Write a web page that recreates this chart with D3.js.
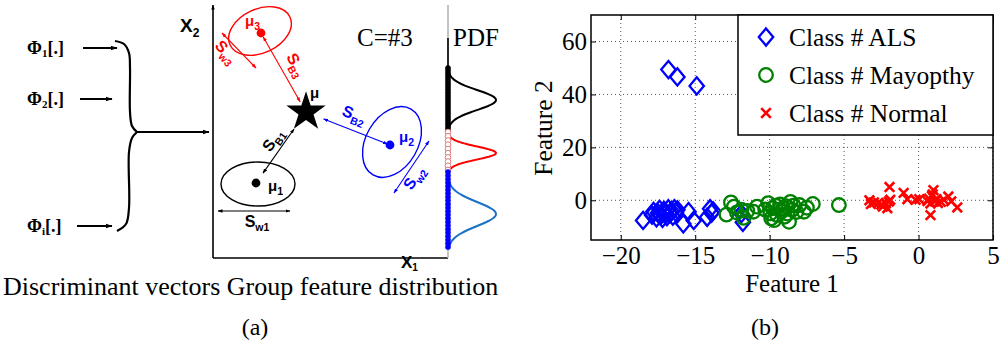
<!DOCTYPE html>
<html>
<head>
<meta charset="utf-8">
<script src="https://cdn.jsdelivr.net/npm/d3@7"></script>
<style>
  html, body { margin: 0; padding: 0; background: #fff; }
  svg { display: block; }
</style>
</head>
<body>
<svg id="fig" width="1001" height="351"></svg>
<script>
// ================= Panel (b) data: two-feature projection per class =================
const featureTicksX = [-20, -15, -10, -5, 0, 5];
const featureTicksY = [0, 20, 40, 60];
const classNames = ["Class # ALS", "Class # Mayopthy", "Class # Normal"];

const alsPoints = [
  [-16.8, 49.4], [-16.2, 46.6], [-14.9, 43.2],
  [-18.5, -7.6], [-17.9, -5.6], [-17.8, -4.2], [-17.6, -6.6], [-17.5, -4.8],
  [-17.4, -3.4], [-17.3, -5.6], [-17.2, -6.8], [-17.1, -3.8], [-17.0, -4.8],
  [-16.9, -6.2], [-16.8, -3.2], [-16.7, -5.0], [-16.6, -4.0], [-16.5, -6.0],
  [-16.4, -3.2], [-16.3, -4.6], [-16.2, -3.6],
  [-15.8, -8.9], [-15.45, -4.3], [-15.1, -7.6], [-14.2, -6.4], [-14.0, -3.2],
  [-13.9, -4.8], [-13.8, -4.0], [-11.8, -8.3], [-11.9, -5.0]
];

const mayopthyPoints = [
  [-12.9, -5.4], [-12.6, -0.8], [-12.4, -2.4], [-12.2, -4.6], [-11.9, -3.6],
  [-11.75, -6.6], [-11.5, -4.0], [-11.1, -4.3], [-10.85, -2.4], [-10.3, -3.5],
  [-10.1, -1.1], [-9.95, -4.9], [-9.9, -6.8], [-9.8, -3.0], [-9.7, -7.5],
  [-9.6, -2.0], [-9.5, -5.6], [-9.3, -1.6], [-9.2, -4.2], [-9.1, -3.0],
  [-9.0, -6.2], [-8.9, -2.2], [-8.8, -5.0], [-8.7, -8.1], [-8.6, -0.6],
  [-8.5, -3.6], [-8.4, -2.0], [-8.2, -4.4], [-8.0, -1.8], [-7.7, -4.3],
  [-7.5, -2.8], [-7.1, -1.4], [-5.35, -1.8]
];

const normalPoints = [
  [-3.3, 0.0], [-3.2, -1.4], [-3.0, -0.8], [-2.7, -1.0], [-2.5, -1.6],
  [-2.4, -2.4], [-2.2, -1.2], [-2.1, -3.0], [-2.0, -0.5], [-1.9, 0.2],
  [-1.95, 5.0], [-1.0, 2.8], [-0.75, 0.4], [-0.2, 0.2], [0.05, 0.4],
  [0.6, -0.3], [0.7, 0.6], [0.8, -1.2], [0.9, 1.6], [1.0, 3.8],
  [1.1, -0.4], [1.2, 0.4], [1.3, -1.0], [1.5, -0.6], [0.8, -5.6],
  [2.0, 1.4], [2.2, -0.4], [2.6, -2.7], [1.7, 0.2], [0.95, 2.2]
];

// ================= Panel (a) data: schematic class layout =================
// Diagram units: origin at the axes corner, one unit per pixel.
const classMeans = [
  { id: "1", x: 43,  y: 75,  color: "#000000" },
  { id: "2", x: 177, y: 113, color: "#0000ff" },
  { id: "3", x: 48,  y: 225, color: "#ff0000" }
];
const globalMean = { x: 93, y: 146 };
const mappingIds = ["1", "2", "i"];

// Gaussian components of the projected group feature distribution (diagram units)
const pdfComponents = [
  { mean: 158, sd: 10,  from: 190, to: 128, curve: "#000000", dot: "#000000", count: 24, hollow: false },
  { mean: 105, sd: 6.5, from: 126, to: 88,  curve: "#ff0000", dot: "#e07a7a", count: 10, hollow: true },
  { mean: 44,  sd: 12,  from: 86,  to: 11,  curve: "#1a72c4", dot: "#0000ff", count: 22, hollow: false }
];

// =====================================================================
const svg = d3.select("#fig");
svg.append("rect").attr("width", 1001).attr("height", 351).attr("fill", "#fff");

const SERIF = "'Liberation Serif', 'Times New Roman', serif";
const SANS = "'Liberation Sans', Arial, sans-serif";

const defs = svg.append("defs");
function arrowMarker(id, color, size) {
  defs.append("marker")
    .attr("id", id)
    .attr("viewBox", "0 0 10 10")
    .attr("refX", 9).attr("refY", 5)
    .attr("markerUnits", "userSpaceOnUse")
    .attr("markerWidth", size).attr("markerHeight", size)
    .attr("orient", "auto-start-reverse")
    .append("path").attr("d", "M0,1.5L10,5L0,8.5Z").attr("fill", color);
}
arrowMarker("ah-black", "#000", 7);
arrowMarker("ah-small-black", "#000", 5);
arrowMarker("ah-small-blue", "#0000ff", 5);
arrowMarker("ah-small-red", "#ff0000", 5);
const smallHead = { "#000000": "ah-small-black", "#0000ff": "ah-small-blue", "#ff0000": "ah-small-red" };

// ---------------- Panel (a) ----------------
const xA = d3.scaleLinear().domain([0, 235]).range([213, 448]);
const yA = d3.scaleLinear().domain([0, 253]).range([258, 5]);
const gA = svg.append("g");

function segment(g, x1, y1, x2, y2, color, width, head, both) {
  const l = g.append("line")
    .attr("x1", xA(x1)).attr("y1", yA(y1))
    .attr("x2", xA(x2)).attr("y2", yA(y2))
    .attr("stroke", color).attr("stroke-width", width)
    .attr("marker-end", `url(#${head})`);
  if (both) l.attr("marker-start", `url(#${head})`);
  return l;
}

function subLabel(g, px, py, rot, main, sub, color, size, subSize, anchor, subShift) {
  const t = g.append("text")
    .attr("transform", `translate(${px},${py}) rotate(${rot})`)
    .attr("text-anchor", anchor || "middle")
    .attr("font-family", SANS).attr("font-weight", "bold")
    .attr("font-size", size).attr("fill", color);
  t.append("tspan").text(main);
  t.append("tspan").attr("font-size", subSize)
    .attr("dy", subShift !== undefined ? subShift : size * 0.28).text(sub);
  return t;
}

// Mapping functions feeding the brace
const phiBaselines = [204, 153, 26];
const phiArrows = [[-130, -96, 210], [-133, -101, 159], [-136, -101, 32]];
mappingIds.forEach((id, i) => {
  const t = gA.append("text")
    .attr("x", xA(-186)).attr("y", yA(phiBaselines[i]))
    .attr("font-family", SERIF).attr("font-weight", "bold")
    .attr("font-size", 18).attr("fill", "#000");
  t.append("tspan").text("Φ");
  t.append("tspan").attr("font-size", 11).attr("dy", 3).text(id);
  t.append("tspan").attr("dy", -3).text("[.]");
  const a = phiArrows[i];
  segment(gA, a[0], a[2], a[1], a[2], "#000", 2, "ah-black", false);
});

// Curly brace gathering the mappings
const braceTop = [[-98, 217], [-89, 214], [-84, 205], [-83, 190], [-83, 146], [-81, 132], [-76, 126]];
const braceBottom = [[-76, 126], [-81, 120], [-84, 106], [-84, 50], [-87, 34], [-96, 27]];
const braceLine = d3.line().x(d => xA(d[0])).y(d => yA(d[1])).curve(d3.curveCatmullRom.alpha(0.5));
[braceTop, braceBottom].forEach(pts => {
  gA.append("path").attr("d", braceLine(pts))
    .attr("fill", "none").attr("stroke", "#000").attr("stroke-width", 2.2);
});
segment(gA, -76, 126, -4, 126, "#000", 2, "ah-black", false);

// Diagram axes
segment(gA, 0, 0, 0, 253, "#000", 1.6, "ah-small-black", false);
gA.append("line")
  .attr("x1", xA(0)).attr("y1", yA(0)).attr("x2", xA(235)).attr("y2", yA(0))
  .attr("stroke", "#000").attr("stroke-width", 1.6);
subLabel(gA, xA(-33), yA(226), 0, "X", "2", "#000", 19, 12, "start");
subLabel(gA, xA(188), yA(-10), 0, "X", "1", "#000", 17, 10, "start", 3);

// Within-class scatter ellipses
const ellipseShapes = [
  { rx: 37, ry: 22, angle: 0,   dx: 2, dy: 1 },
  { rx: 38, ry: 26, angle: -60, dx: 2, dy: -3 },
  { rx: 33, ry: 22, angle: -25, dx: -1, dy: -2 }
];
classMeans.forEach((m, i) => {
  const s = ellipseShapes[i];
  gA.append("ellipse")
    .attr("transform", `translate(${xA(m.x) + s.dx},${yA(m.y) + s.dy}) rotate(${s.angle})`)
    .attr("rx", s.rx).attr("ry", s.ry)
    .attr("fill", "none").attr("stroke", m.color).attr("stroke-width", 1.4);
});

// Between-class arrows (fractions along mean <-> global mean)
function lerp(a, b, t) { return a + (b - a) * t; }
const betweenArrows = [
  { from: classMeans[0], to: globalMean, t0: 0.14, t1: 0.76 },
  { from: globalMean, to: classMeans[1], t0: 0.21, t1: 0.97 },
  { from: classMeans[2], to: globalMean, t0: 0.05, t1: 0.87 }
];
betweenArrows.forEach((b, i) => {
  const c = classMeans[i].color;
  segment(gA,
    lerp(b.from.x, b.to.x, b.t0), lerp(b.from.y, b.to.y, b.t0),
    lerp(b.from.x, b.to.x, b.t1), lerp(b.from.y, b.to.y, b.t1),
    c, 1.1, smallHead[c], true);
});

// Within-class spread arrows
const withinArrows = [
  [5, 47, 77, 47],
  [216, 117, 181, 65],
  [9, 225, 43, 190]
];
withinArrows.forEach((w, i) => {
  const c = classMeans[i].color;
  segment(gA, w[0], w[1], w[2], w[3], c, 1.1, smallHead[c], true);
});

// Scatter labels
const scatterLabels = [
  { main: "S", sub: "w1", x: 44,  y: 36,  rot: 0,   cls: 0 },
  { main: "S", sub: "B1", x: 60,  y: 118, rot: -55, cls: 0 },
  { main: "S", sub: "B2", x: 141, y: 143, rot: 22,  cls: 1 },
  { main: "S", sub: "w2", x: 201, y: 80,  rot: -57, cls: 1 },
  { main: "S", sub: "B3", x: 83,  y: 193, rot: 62,  cls: 2 },
  { main: "S", sub: "w3", x: 13,  y: 206, rot: 48,  cls: 2 }
];
scatterLabels.forEach(l => {
  const c = classMeans[l.cls].color;
  const g = gA.append("g").attr("transform", `translate(${xA(l.x)},${yA(l.y)}) rotate(${l.rot})`);
  subLabel(g, 0, 5, 0, l.main, l.sub, c, 16, 10.5, "middle");
});

// Global mean star
gA.append("path")
  .attr("transform", `translate(${xA(globalMean.x)},${yA(globalMean.y)})`)
  .attr("d", d3.symbol().type(d3.symbolStar).size(480)())
  .attr("fill", "#000");
gA.append("text")
  .attr("x", xA(globalMean.x) + 4).attr("y", yA(globalMean.y) - 14)
  .attr("font-family", SANS).attr("font-weight", "bold").attr("font-size", 15)
  .text("μ");

// Class means and their labels
const meanLabelOffsets = [[12, 8], [9, -3], [-16, -7]];
classMeans.forEach((m, i) => {
  gA.append("circle").attr("cx", xA(m.x)).attr("cy", yA(m.y)).attr("r", 4.4).attr("fill", m.color);
  const o = meanLabelOffsets[i];
  subLabel(gA, xA(m.x) + o[0], yA(m.y) + o[1], 0, "μ", m.id, m.color, 15, 10.5, "start");
});

gA.append("text")
  .attr("x", xA(144)).attr("y", yA(212))
  .attr("font-family", SERIF).attr("font-size", 25).text("C=#3");
gA.append("text")
  .attr("x", xA(240)).attr("y", yA(212))
  .attr("font-family", SERIF).attr("font-size", 25).text("PDF");

// Projection line with per-class densities
gA.append("line")
  .attr("x1", xA(235)).attr("y1", yA(253)).attr("x2", xA(235)).attr("y2", yA(0))
  .attr("stroke", "#b4b4b4").attr("stroke-width", 1.6);
gA.append("line")
  .attr("x1", xA(235)).attr("y1", yA(220)).attr("x2", xA(235)).attr("y2", yA(128))
  .attr("stroke", "#000").attr("stroke-width", 1.6);

const pdfWidth = 48;
pdfComponents.forEach(c => {
  const ys = d3.range(0, 61).map(k => c.from + (c.to - c.from) * k / 60);
  const line = d3.line()
    .x(v => xA(235 + pdfWidth * Math.exp(-0.5 * Math.pow((v - c.mean) / c.sd, 2))))
    .y(v => yA(v));
  gA.append("path").attr("d", line(ys))
    .attr("fill", "none").attr("stroke", c.curve).attr("stroke-width", 2);
});
pdfComponents.forEach(c => {
  const ys = d3.range(c.count).map(k => c.from + (c.to - c.from) * k / (c.count - 1));
  gA.selectAll(null).data(ys).enter().append("circle")
    .attr("cx", xA(235)).attr("cy", v => yA(v))
    .attr("r", c.hollow ? 2.8 : 2.6)
    .attr("fill", c.hollow ? "#fff" : c.dot)
    .attr("stroke", c.dot).attr("stroke-width", c.hollow ? 1 : 0.5);
});

// Captions
svg.append("text").attr("x", 3).attr("y", 295)
  .attr("font-family", SERIF).attr("font-size", 26)
  .text("Discriminant vectors Group feature distribution");
svg.append("text").attr("x", 255).attr("y", 335).attr("text-anchor", "middle")
  .attr("font-family", SERIF).attr("font-size", 24).text("(a)");
svg.append("text").attr("x", 765).attr("y", 335).attr("text-anchor", "middle")
  .attr("font-family", SERIF).attr("font-size", 24).text("(b)");

// ---------------- Panel (b) ----------------
const plot = { left: 591, right: 993, top: 15, bottom: 240 };
const x = d3.scaleLinear().domain([-22, 5]).range([plot.left, plot.right]);
const y = d3.scaleLinear().domain([-15, 70]).range([plot.bottom, plot.top]);
const gB = svg.append("g");

// Dotted grid
gB.selectAll(".gx").data(featureTicksX).enter().append("line")
  .attr("x1", d => x(d)).attr("x2", d => x(d))
  .attr("y1", plot.top).attr("y2", plot.bottom)
  .attr("stroke", "#555").attr("stroke-width", 1).attr("stroke-dasharray", "1,3");
gB.selectAll(".gy").data(featureTicksY).enter().append("line")
  .attr("x1", plot.left).attr("x2", plot.right)
  .attr("y1", d => y(d)).attr("y2", d => y(d))
  .attr("stroke", "#555").attr("stroke-width", 1).attr("stroke-dasharray", "1,3");

// Axes with inward ticks
function styleAxis(g, hideText) {
  g.select(".domain").remove();
  g.selectAll(".tick line").attr("stroke", "#000").attr("stroke-width", 1);
  g.selectAll("text").attr("font-family", SERIF).attr("font-size", 25).attr("fill", "#000");
  if (hideText) g.selectAll("text").remove();
}
gB.append("g").attr("transform", `translate(0,${plot.bottom})`)
  .call(d3.axisBottom(x).tickValues(featureTicksX).tickSize(-5).tickPadding(6))
  .call(g => styleAxis(g, false));
gB.append("g").attr("transform", `translate(0,${plot.top})`)
  .call(d3.axisTop(x).tickValues(featureTicksX).tickSize(-5))
  .call(g => styleAxis(g, true));
gB.append("g").attr("transform", `translate(${plot.left},0)`)
  .call(d3.axisLeft(y).tickValues(featureTicksY).tickSize(-5).tickPadding(4))
  .call(g => styleAxis(g, false));
gB.append("g").attr("transform", `translate(${plot.right},0)`)
  .call(d3.axisRight(y).tickValues(featureTicksY).tickSize(-5))
  .call(g => styleAxis(g, true));

// Markers
const diamondPath = "M0,-8.6L7.2,0L0,8.6L-7.2,0Z";
function drawDiamond(g, cx, cy) {
  g.append("path").attr("transform", `translate(${cx},${cy})`).attr("d", diamondPath)
    .attr("fill", "none").attr("stroke", "#0000ff").attr("stroke-width", 2.3);
}
function drawCircle(g, cx, cy) {
  g.append("circle").attr("cx", cx).attr("cy", cy).attr("r", 6.8)
    .attr("fill", "none").attr("stroke", "#008000").attr("stroke-width", 2.3);
}
function drawCross(g, cx, cy) {
  g.append("path").attr("transform", `translate(${cx},${cy})`)
    .attr("d", "M-4.8,-4.8L4.8,4.8M-4.8,4.8L4.8,-4.8")
    .attr("stroke", "#ff0000").attr("stroke-width", 2.6);
}
const painters = [drawDiamond, drawCircle, drawCross];
[alsPoints, mayopthyPoints, normalPoints].forEach((pts, i) => {
  const g = gB.append("g");
  pts.forEach(p => painters[i](g, x(p[0]), y(p[1])));
});

// Frame
gB.append("rect")
  .attr("x", plot.left).attr("y", plot.top)
  .attr("width", plot.right - plot.left).attr("height", plot.bottom - plot.top)
  .attr("fill", "none").attr("stroke", "#000").attr("stroke-width", 1.5);

// Legend
const legend = gB.append("g");
legend.append("rect")
  .attr("x", 738).attr("y", plot.top).attr("width", plot.right - 738).attr("height", 120)
  .attr("fill", "#fff").attr("stroke", "#000").attr("stroke-width", 1.5);
classNames.forEach((name, i) => {
  const cy = 37 + i * 38;
  painters[i](legend, 766, cy);
  legend.append("text").attr("x", 789).attr("y", cy + 9)
    .attr("font-family", SERIF).attr("font-size", 25.5).text(name);
});

// Axis titles
gB.append("text").attr("x", (plot.left + plot.right) / 2).attr("y", 292)
  .attr("text-anchor", "middle").attr("font-family", SERIF).attr("font-size", 25)
  .text("Feature 1");
gB.append("text").attr("transform", `translate(552,128) rotate(-90)`)
  .attr("text-anchor", "middle").attr("font-family", SERIF).attr("font-size", 25.5)
  .text("Feature 2");
</script>
</body>
</html>
